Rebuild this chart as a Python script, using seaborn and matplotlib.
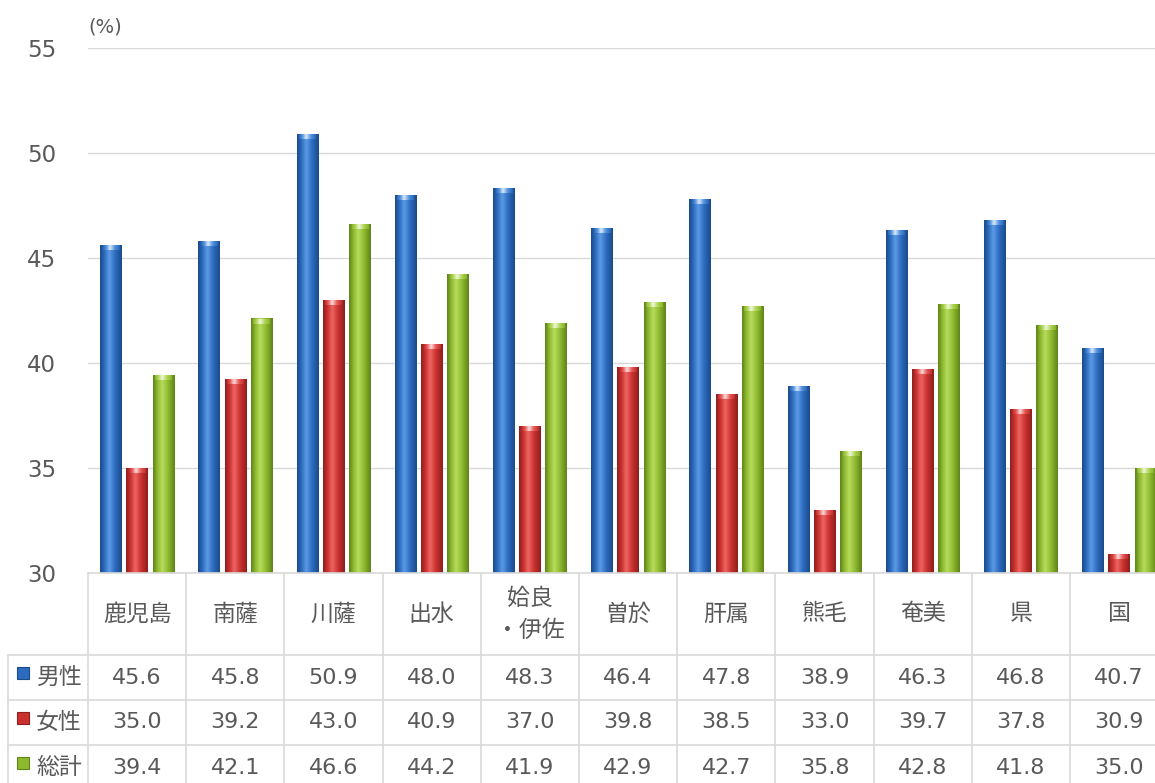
import numpy as np
import pandas as pd
import matplotlib
matplotlib.use("Agg")
import matplotlib.pyplot as plt
from matplotlib.colors import LinearSegmentedColormap
from matplotlib.patches import Rectangle
import seaborn as sns

regions = ["鹿児島", "南薩", "川薩", "出水", "姶良\n・伊佐", "曽於", "肝属", "熊毛", "奄美", "県", "国"]
series = ["男性", "女性", "総計"]
male = [45.6, 45.8, 50.9, 48.0, 48.3, 46.4, 47.8, 38.9, 46.3, 46.8, 40.7]
female = [35.0, 39.2, 43.0, 40.9, 37.0, 39.8, 38.5, 33.0, 39.7, 37.8, 30.9]
total = [39.4, 42.1, 46.6, 44.2, 41.9, 42.9, 42.7, 35.8, 42.8, 41.8, 35.0]
yticks = [30, 35, 40, 45, 50, 55]

# base / light / dark shades per series
shades = {
    "男性": ("#2C6BBE", "#5C9BE6", "#1B4A8A"),
    "女性": ("#C9302E", "#EE6563", "#8E1F1E"),
    "総計": ("#8DB92E", "#B9DC5E", "#5F8319"),
}
TXT = "#595959"
GRID = "#D9D9D9"
JP = ["Noto Sans CJK JP", "DejaVu Sans"]

df = pd.DataFrame({
    "地域": regions * 3,
    "系列": [s for s in series for _ in regions],
    "値": male + female + total,
})

sns.set_style("white")
plt.rcParams["font.family"] = ["DejaVu Sans", "Noto Sans CJK JP"]

W, H = 1155, 783
fig = plt.figure(figsize=(W / 100, H / 100), dpi=100)
cw = 98.2
left, right = 88, 88 + cw * len(regions)
top, base = 48, 573
ax = fig.add_axes([left / W, 1 - base / H, (right - left) / W, (base - top) / H])

sns.barplot(data=df, x="地域", y="値", hue="系列", order=regions, hue_order=series,
            palette=[shades[s][0] for s in series], width=0.8, gap=0.18,
            legend=False, ax=ax, zorder=2)


def cyl_cmap(b, l, d):
    return LinearSegmentedColormap.from_list("c", [(0, d), (0.2, b), (0.42, l), (0.7, b), (1, d)])


grad = np.linspace(0, 1, 80).reshape(1, -1)
for s, cont in zip(series, ax.containers):
    b, l, d = shades[s]
    cm = cyl_cmap(b, l, d)
    for p in cont:
        x, w, h = p.get_x(), p.get_width(), p.get_height()
        p.set_visible(False)
        ax.imshow(grad, extent=[x, x + w, 0, h], cmap=cm, aspect="auto",
                  interpolation="bicubic", zorder=3)
        ax.imshow(grad, extent=[x + w * 0.12, x + w * 0.88, h - 0.22, h], cmap=cyl_cmap(l, "#FFFFFF", b),
                  aspect="auto", interpolation="bicubic", zorder=4, alpha=0.8)

ax.set_xlim(-0.5, len(regions) - 0.5)
ax.set_ylim(30, 55)
ax.set_yticks(yticks)
ax.yaxis.grid(True, color=GRID, lw=1)
ax.set_axisbelow(True)
for sp in ax.spines.values():
    sp.set_visible(False)
ax.tick_params(axis="y", length=0, pad=23, labelsize=16.5, labelcolor=TXT)
ax.set_xticks([])
ax.set_xlabel("")
ax.set_ylabel("")
ax.text(0.0, 1.04, "(%)", transform=ax.transAxes, fontsize=14, color=TXT,
        ha="left", va="center", clip_on=False)

# data table below the plot
tb = fig.add_axes([left / W, 0, (right - left) / W, 1 - base / H])
tb.set_xlim(-0.5, len(regions) - 0.5)
tb.set_ylim(H - base, 0)
tb.axis("off")
hdr, rh = 82, 45
lab_left = -0.5 - 80 / cw
kw = dict(color=GRID, lw=1.2, clip_on=False)
tb.plot([-0.5, len(regions) - 0.5], [0, 0], **kw)
for k in range(len(series)):
    y = hdr + k * rh
    tb.plot([lab_left, len(regions) - 0.5], [y, y], **kw)
for i in range(len(regions) + 1):
    tb.plot([i - 0.5, i - 0.5], [0, H - base], **kw)
tb.plot([lab_left, lab_left], [hdr, H - base], **kw)

for i, r in enumerate(regions):
    tb.text(i, hdr / 2, r, ha="center", va="center", fontsize=16.5, color=TXT,
            linespacing=1.5, family=JP, clip_on=False)

for k, (s, vals) in enumerate(zip(series, [male, female, total])):
    yc = hdr + k * rh + rh / 2
    b, l, d = shades[s]
    sq = 12 / cw
    tb.add_patch(Rectangle((lab_left + 9 / cw, yc - 11), sq, 12, facecolor=b,
                           edgecolor=d, lw=0.8, clip_on=False))
    tb.text(lab_left + 28 / cw, yc, s, ha="left", va="center", fontsize=16.5,
            color=TXT, family=JP, clip_on=False)
    for i, v in enumerate(vals):
        tb.text(i, yc, f"{v:.1f}", ha="center", va="center", fontsize=16,
                color=TXT, clip_on=False)

fig.savefig("out.png", dpi=100)
